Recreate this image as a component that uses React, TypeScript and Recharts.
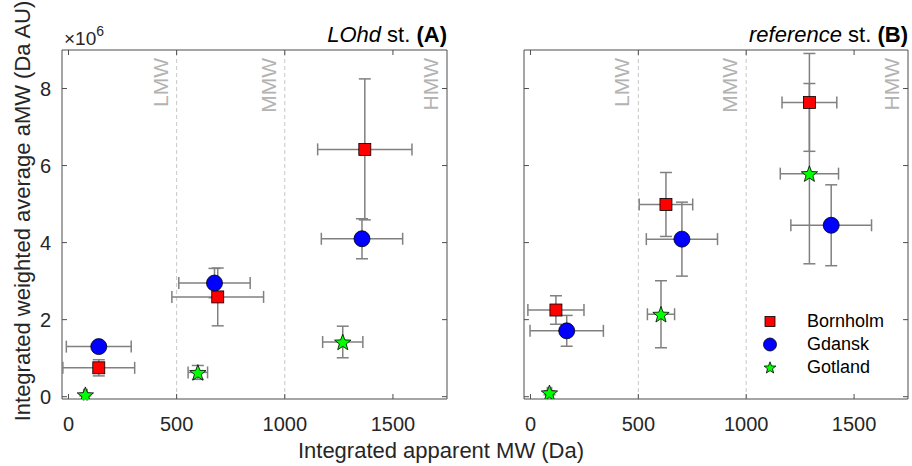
import React from 'react';
import { ScatterChart, Scatter, XAxis, YAxis, ErrorBar, ReferenceLine, ReferenceArea, Legend } from 'recharts';

// ---------- data (y values in units of 10^6 Da AU) ----------
const seriesNames = ['Bornholm', 'Gdansk', 'Gotland'];
const xTicks = [0, 500, 1000, 1500];
const yTicks = [0, 2, 4, 6, 8];
const xDomain = [-30, 1750];
const yDomain = [-0.06, 9];
const regionLines = [500, 1000, 1750];
const regionLabels = ['LMW', 'MMW', 'HMW'];

// Panel A: LOhd st.
const bornholmA_x = [140, 690, 1370];
const bornholmA_y = [0.75, 2.59, 6.42];
const bornholmA_ex = [166, 212, 218];
const bornholmA_ey = [0.21, 0.75, 1.83];

const gdanskA_x = [140, 675, 1357];
const gdanskA_y = [1.3, 2.95, 4.1];
const gdanskA_ex = [150, 165, 188];
const gdanskA_ey = [0.1, 0.38, 0.52];

const gotlandA_x = [78, 598, 1268];
const gotlandA_y = [0.05, 0.63, 1.42];
const gotlandA_ex = [8, 45, 93];
const gotlandA_ey = [0.03, 0.18, 0.41];

// Panel B: reference st.
const bornholmB_x = [118, 628, 1293];
const bornholmB_y = [2.25, 4.99, 7.64];
const bornholmB_ex = [130, 124, 127];
const bornholmB_ey = [0.37, 0.83, 1.27];

const gdanskB_x = [168, 702, 1394];
const gdanskB_y = [1.71, 4.09, 4.45];
const gdanskB_ex = [170, 165, 187];
const gdanskB_ey = [0.4, 0.96, 1.05];

const gotlandB_x = [88, 605, 1293];
const gotlandB_y = [0.1, 2.14, 5.79];
const gotlandB_ex = [10, 63, 135];
const gotlandB_ey = [0.05, 0.87, 2.34];

// ---------- helpers ----------
const mk = (xs: number[], ys: number[], exs: number[], eys: number[]) =>
  xs.map((x, i) => ({ x, y: ys[i], ex: exs[i], ey: eys[i] }));

const FONT = "Arial, 'Liberation Sans', Helvetica, sans-serif";
const AXIS = '#4d4d4d';
const TXT = '#262626';
const ERR = '#808080';

// inward tick lengths expressed in data units (≈5 px)
const X_TICK_LEN = 0.13; // in y units, for ticks on the x axes
const Y_TICK_LEN = 23; // in x units, for ticks on the y axes

const starPts = (cx: number, cy: number, R: number, r: number) => {
  const pts: string[] = [];
  for (let i = 0; i < 10; i++) {
    const a = -Math.PI / 2 + (i * Math.PI) / 5;
    const rad = i % 2 === 0 ? R : r;
    pts.push(`${cx + rad * Math.cos(a)},${cy + rad * Math.sin(a)}`);
  }
  return pts.join(' ');
};

const drawIcon = (name: string, cx: number, cy: number, small: boolean) => {
  if (name === 'Bornholm') {
    const h = small ? 5 : 6;
    return <rect x={cx - h} y={cy - h} width={2 * h} height={2 * h} fill="#ff0000" stroke="#000" strokeWidth={0.8} />;
  }
  if (name === 'Gdansk') {
    return <circle cx={cx} cy={cy} r={small ? 6.5 : 8} fill="#0000ff" stroke="#000" strokeWidth={0.8} />;
  }
  const R = small ? 6.2 : 8.6;
  return <polygon points={starPts(cx, cy + (small ? 0.5 : 0.8), R, R * 0.42)} fill="#00ff00" stroke="#000" strokeWidth={0.8} />;
};

const shapeFor = (name: string) => (p: any) => drawIcon(name, p.cx, p.cy, false);

const regionLabel = (text: string) => (p: any) => {
  const vb = p.viewBox || {};
  const x = (vb.x ?? 0) - 9;
  const y = (vb.y ?? 0) + 8;
  return (
    <text x={x} y={y} transform={`rotate(-90, ${x}, ${y})`} textAnchor="end" fill="#b3b3b3" fontSize={21} fontFamily={FONT}>
      {text}
    </text>
  );
};

const LegendContent = (props: any) => {
  const payload = props.payload || [];
  return (
    <div style={{ fontFamily: FONT, fontSize: 18, color: '#000' }}>
      {payload.map((e: any) => (
        <div key={e.value} style={{ height: 23, display: 'flex', alignItems: 'center' }}>
          <svg width={20} height={23} style={{ display: 'block' }}>
            {drawIcon(String(e.value), 10, 11.5, true)}
          </svg>
          <span style={{ marginLeft: 27, lineHeight: '23px' }}>{e.value}</span>
        </div>
      ))}
    </div>
  );
};

type PanelProps = {
  left: number;
  width: number;
  yAxisWidth: number;
  rightMargin: number;
  showYLabels: boolean;
  showLegend: boolean;
  series: { name: string; data: any[] }[];
};

const tickSegs = () => {
  const segs: { key: string; seg: { x: number; y: number }[] }[] = [];
  xTicks.forEach((t) => {
    segs.push({ key: `xb${t}`, seg: [{ x: t, y: yDomain[0] }, { x: t, y: yDomain[0] + X_TICK_LEN }] });
    segs.push({ key: `xt${t}`, seg: [{ x: t, y: yDomain[1] }, { x: t, y: yDomain[1] - X_TICK_LEN }] });
  });
  yTicks.forEach((t) => {
    segs.push({ key: `yl${t}`, seg: [{ x: xDomain[0], y: t }, { x: xDomain[0] + Y_TICK_LEN, y: t }] });
    segs.push({ key: `yr${t}`, seg: [{ x: xDomain[1], y: t }, { x: xDomain[1] - Y_TICK_LEN, y: t }] });
  });
  return segs;
};

const Panel = ({ left, width, yAxisWidth, rightMargin, showYLabels, showLegend, series }: PanelProps) => (
  <div style={{ position: 'absolute', left, top: 0 }}>
    <ScatterChart width={width} height={466} margin={{ top: 50, right: rightMargin, bottom: 27, left: 0 }}>
      <XAxis
        xAxisId="b"
        type="number"
        dataKey="x"
        domain={xDomain}
        ticks={xTicks}
        allowDataOverflow
        height={40}
        axisLine={false}
        tickLine={false}
        tickSize={0}
        tickMargin={18}
        tick={{ fill: TXT, fontSize: 20, fontFamily: FONT }}
      />
      <YAxis
        yAxisId="l"
        type="number"
        dataKey="y"
        domain={yDomain}
        ticks={yTicks}
        allowDataOverflow
        width={yAxisWidth}
        axisLine={false}
        tickLine={false}
        tickSize={0}
        tickMargin={11}
        tick={showYLabels ? { fill: TXT, fontSize: 20, fontFamily: FONT } : false}
      />
      {regionLines.map((v, i) => (
        <ReferenceLine
          key={v}
          x={v}
          xAxisId="b"
          yAxisId="l"
          stroke={i < 2 ? '#c8c8c8' : 'none'}
          strokeDasharray="4 3"
          label={regionLabel(regionLabels[i])}
        />
      ))}
      <ReferenceArea
        xAxisId="b"
        yAxisId="l"
        x1={xDomain[0]}
        x2={xDomain[1]}
        y1={yDomain[0]}
        y2={yDomain[1]}
        fill="none"
        fillOpacity={0}
        stroke={AXIS}
        strokeWidth={1}
        strokeOpacity={1}
        ifOverflow="visible"
      />
      {tickSegs().map((s) => (
        <ReferenceLine key={s.key} xAxisId="b" yAxisId="l" segment={s.seg} stroke={AXIS} strokeWidth={1} ifOverflow="visible" />
      ))}
      {series.map((s) => (
        <Scatter
          key={s.name}
          name={s.name}
          data={s.data}
          xAxisId="b"
          yAxisId="l"
          fill={s.name === 'Bornholm' ? '#ff0000' : s.name === 'Gdansk' ? '#0000ff' : '#00ff00'}
          shape={shapeFor(s.name)}
          isAnimationActive={false}
        >
          <ErrorBar dataKey="ex" direction="x" width={6} stroke={ERR} strokeWidth={1.5} />
          <ErrorBar dataKey="ey" direction="y" width={6} stroke={ERR} strokeWidth={1.5} />
        </Scatter>
      ))}
      {showLegend && (
        <Legend
          layout="vertical"
          align="center"
          verticalAlign="middle"
          content={<LegendContent />}
          wrapperStyle={{ left: 300, top: 310, width: 140 }}
        />
      )}
    </ScatterChart>
  </div>
);

export default function App() {
  const seriesA = [
    { name: seriesNames[0], data: mk(bornholmA_x, bornholmA_y, bornholmA_ex, bornholmA_ey) },
    { name: seriesNames[1], data: mk(gdanskA_x, gdanskA_y, gdanskA_ex, gdanskA_ey) },
    { name: seriesNames[2], data: mk(gotlandA_x, gotlandA_y, gotlandA_ex, gotlandA_ey) },
  ];
  const seriesB = [
    { name: seriesNames[0], data: mk(bornholmB_x, bornholmB_y, bornholmB_ex, bornholmB_ey) },
    { name: seriesNames[1], data: mk(gdanskB_x, gdanskB_y, gdanskB_ex, gdanskB_ey) },
    { name: seriesNames[2], data: mk(gotlandB_x, gotlandB_y, gotlandB_ex, gotlandB_ey) },
  ];
  return (
    <div style={{ position: 'absolute', left: 0, top: 0, width: 912, height: 466, background: '#fff', fontFamily: FONT, overflow: 'hidden' }}>
      <Panel left={0} width={460} yAxisWidth={62} rightMargin={13} showYLabels showLegend={false} series={seriesA} />
      <Panel left={460} width={452} yAxisWidth={64} rightMargin={4} showYLabels={false} showLegend series={seriesB} />
      <svg width={912} height={466} style={{ position: 'absolute', left: 0, top: 0, pointerEvents: 'none' }} fontFamily={FONT}>
        <text x={447} y={42} textAnchor="end" fontSize={22} fill="#000">
          <tspan fontStyle="italic">LOhd</tspan>
          <tspan>{' st. '}</tspan>
          <tspan fontWeight="bold">(A)</tspan>
        </text>
        <text x={908} y={42} textAnchor="end" fontSize={22} fill="#000">
          <tspan fontStyle="italic">reference</tspan>
          <tspan>{' st. '}</tspan>
          <tspan fontWeight="bold">(B)</tspan>
        </text>
        <text x={64} y={45} fontSize={19} fill={TXT}>
          ×10<tspan dy={-9} fontSize={14}>6</tspan>
        </text>
        <text transform="rotate(-90)" x={-211} y={30} textAnchor="middle" fontSize={22} fill={TXT}>
          Integrated weighted average aMW (Da AU)
        </text>
        <text x={441} y={458} textAnchor="middle" fontSize={22} fill={TXT}>
          Integrated apparent MW (Da)
        </text>
      </svg>
    </div>
  );
}
